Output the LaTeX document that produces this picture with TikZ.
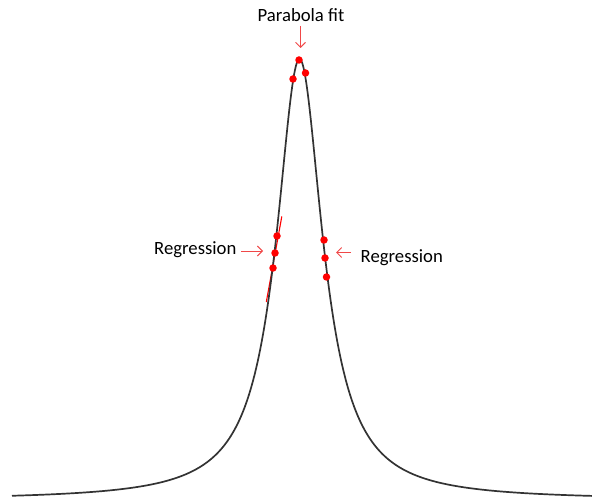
\documentclass[tikz,border=0pt]{standalone}
\usepackage{fontspec}
\setmainfont{Carlito}
\usetikzlibrary{arrows.meta}
\definecolor{curvegray}{HTML}{333333}
\definecolor{arrred}{HTML}{F04848}
\tikzset{
  lbl/.style={inner sep=0pt, font=\fontsize{18.7}{22}\selectfont, text=black},
  arr/.style={draw=arrred, line width=0.9pt, -{Straight Barb[length=5pt,width=10pt]}},
  dot/.style={circle, fill=red, draw=none, inner sep=0pt, minimum size=7.5pt},
  peak/.style={draw=curvegray, line width=1.7pt},
  regline/.style={draw=red, line width=1.1pt}
}
\begin{document}
\begin{tikzpicture}[x=1pt, y=-1pt]
\useasboundingbox (0,0) rectangle (592,497);
% regression line (left)
\coordinate (rl1) at (281.8,216.5);
\coordinate (rl2) at (266.3,302);
\draw[regline] (rl1) -- (rl2);
% Lorentzian peak
\draw[peak] plot[domain=12:592, samples=700, smooth] (\x, {500 - 441/(1+((\x-299.5)/28.3)^2)});
% dots
\node[dot] (t0) at (299,60) {};
\node[dot] (t1) at (293,79) {};
\node[dot] (t2) at (305.5,73) {};
\node[dot] (l1) at (277,236) {};
\node[dot] (l2) at (275,253) {};
\node[dot] (l3) at (273,268) {};
\node[dot] (r1) at (324,240) {};
\node[dot] (r2) at (325,258) {};
\node[dot] (r3) at (326.5,277) {};
% labels
\node[lbl, anchor=base] (pf) at (301,22) {Parabola fit};
\node[lbl, anchor=base west] (rgl) at (154,255) {Regression};
\node[lbl, anchor=base west] (rgr) at (360.5,262) {Regression};
% arrows
\coordinate (pfs) at (300.5,26);
\coordinate (pfe) at (300.5,48);
\draw[arr] (pfs) -- (pfe);
\coordinate (als) at (241,251);
\coordinate (ale) at (263,251);
\draw[arr] (als) -- (ale);
\coordinate (ars) at (351,252.5);
\coordinate (are) at (336,252.5);
\draw[arr] (ars) -- (are);
\end{tikzpicture}
\end{document}
